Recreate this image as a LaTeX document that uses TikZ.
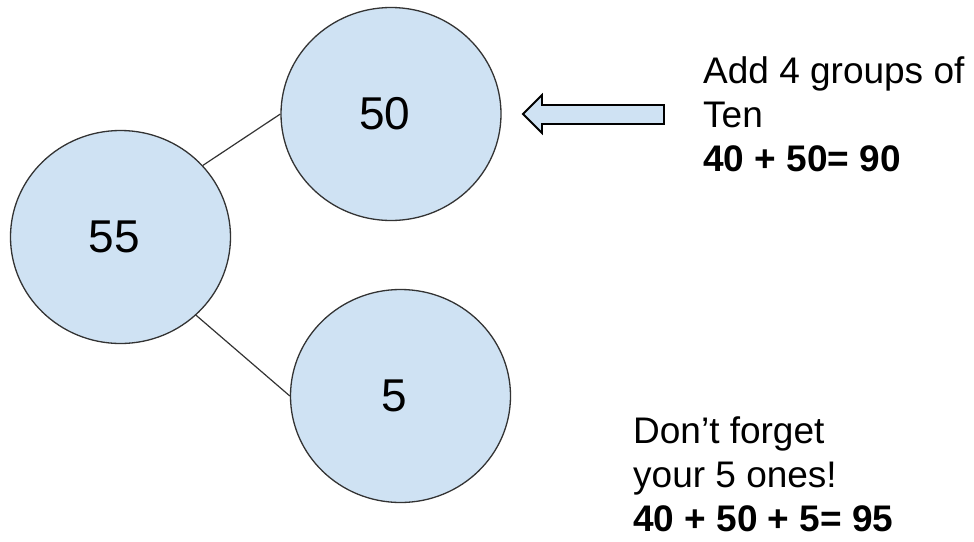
\documentclass[tikz,border=0pt]{standalone}
\usepackage{fontspec}
\setmainfont{Liberation Sans}
\usetikzlibrary{shapes.geometric}
\definecolor{bubble}{HTML}{CFE2F3}
\definecolor{edge}{HTML}{333333}
\tikzset{
  bubblenode/.style={ellipse, draw=edge, line width=1.3pt, fill=bubble, minimum width=220pt, minimum height=213pt, inner sep=0pt},
  numlabel/.style={font=\fontsize{46}{50}\selectfont, text=black},
  link/.style={draw=edge, line width=1.2pt},
  note/.style={anchor=base west, align=left, inner sep=0pt, font=\fontsize{37}{44}\selectfont, text=black},
}
\begin{document}
\begin{tikzpicture}[x=1pt,y=-1pt]
\useasboundingbox (0,0) rectangle (974,541);
\node[bubblenode, label={[numlabel, xshift=-6pt]center:55}] (c55) at (120.5,237) {};
\node[bubblenode, label={[numlabel, xshift=-6pt]center:50}] (c50) at (391,114) {};
\node[bubblenode, label={[numlabel, xshift=-6pt]center:5}] (c5) at (400.5,396) {};
\draw[link] (c55.41) -- (c50.west);
\draw[link] (c55.-46) -- (c5.west);
\draw[line width=1.8pt, draw=black, fill=bubble, line join=miter]
  (523,114) -- (542,95) -- (542,105) -- (664,105) -- (664,124) -- (542,124) -- (542,133) -- cycle;
\node[note] (t1) at (703,171) {Add 4 groups of\\Ten\\\textbf{40 + 50= 90}};
\node[note] (t2) at (633,531) {Don’t forget\\your 5 ones!\\\textbf{40 + 50 + 5= 95}};
\end{tikzpicture}
\end{document}
